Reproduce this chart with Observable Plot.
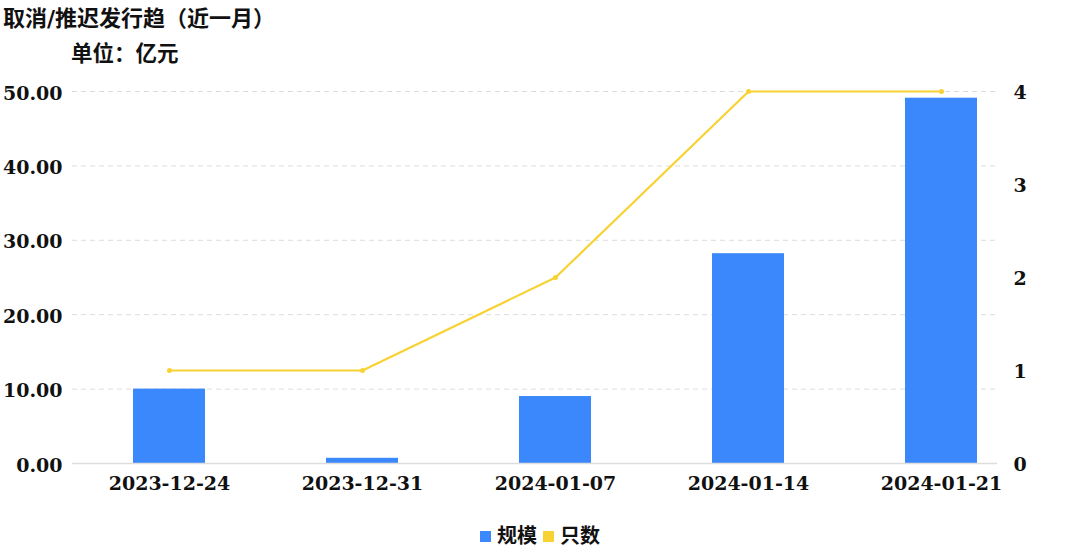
<!DOCTYPE html>
<html>
<head>
<meta charset="utf-8">
<script src="https://cdn.jsdelivr.net/npm/d3@7"></script>
<script src="https://cdn.jsdelivr.net/npm/@observablehq/plot@0.6"></script>
<style>
  html, body { margin: 0; padding: 0; background: #fff; }
  #wrap { position: relative; width: 1073px; height: 558px; overflow: hidden; }
  .t { position: absolute; font-family: "DejaVu Serif", "Noto Sans CJK SC", serif; font-weight: bold; color: #111; white-space: nowrap; line-height: 1; }
  #title { left: 3px; top: 7px; font-size: 22px; }
  #unit { left: 71px; top: 43px; font-size: 21.5px; }
  #legend { left: 480px; top: 526px; font-size: 20px; display: flex; align-items: center; }
  #legend .sw { display: inline-block; width: 11px; height: 11px; margin-right: 6px; }
  #legend .it { display: flex; align-items: center; margin-right: 6px; }
  #chart { position: absolute; left: 0; top: 0; }
</style>
</head>
<body>
<div id="wrap">
  <div id="chart"></div>
  <div class="t" id="title">取消/推迟发行趋（近一月）</div>
  <div class="t" id="unit">单位：亿元</div>
  <div class="t" id="legend"></div>
</div>
<script>
const dates = ["2023-12-24", "2023-12-31", "2024-01-07", "2024-01-14", "2024-01-21"];
const scale = [10.0, 0.7, 9.0, 28.2, 49.1];   // 规模 (亿元)
const counts = [1, 1, 2, 4, 4];              // 只数
const leftTicks = [0, 10, 20, 30, 40, 50];
const rightTicks = [0, 1, 2, 3, 4];
const seriesNames = ["规模", "只数"];
const colors = ["#3a88fb", "#f8d232"];

const leftMax = 50, rightMax = 4;
const ratio = leftMax / rightMax;

const barData = dates.map((d, i) => ({date: d, value: scale[i]}));
const lineData = dates.map((d, i) => ({date: d, count: counts[i], y: counts[i] * ratio}));

const font = "DejaVu Serif, serif";

const chart = Plot.plot({
  width: 1073,
  height: 558,
  marginTop: 91,
  marginBottom: 95,
  marginLeft: 72,
  marginRight: 76,
  style: {fontFamily: font, fontSize: "19px", fontWeight: "bold", color: "#111", background: "transparent"},
  x: {domain: dates, range: [72.5, 1037.5], paddingInner: 0.627, paddingOuter: 0.3135},
  y: {domain: [0, leftMax]},
  marks: [
    Plot.gridY(leftTicks, {stroke: "#dcdcdc", strokeOpacity: 1, strokeDasharray: "5,4", strokeWidth: 1}),
    Plot.barY(barData, {x: "date", y: "value", fill: colors[0]}),
    Plot.ruleY([0], {stroke: "#dddddd", strokeWidth: 1.5}),
    Plot.line(lineData, {x: "date", y: "y", stroke: colors[1], strokeWidth: 2.2}),
    Plot.dot(lineData, {x: "date", y: "y", r: 2.5, fill: colors[1], stroke: "none"}),
    Plot.axisY(leftTicks, {anchor: "left", tickSize: 0, tickPadding: 10, dy: 2, tickFormat: d => d.toFixed(2), label: null, fontSize: 19}),
    Plot.axisY(rightTicks.map(t => t * ratio), {anchor: "right", tickSize: 0, tickPadding: 16, dy: 1, tickFormat: d => String(Math.round(d / ratio)), label: null, fontSize: 19, textAnchor: "start"}),
    Plot.axisX({anchor: "bottom", tickSize: 0, tickPadding: 13, label: null, fontSize: 19})
  ]
});
document.getElementById("chart").appendChild(chart);

const legend = document.getElementById("legend");
seriesNames.forEach((n, i) => {
  const it = document.createElement("span");
  it.className = "it";
  const sw = document.createElement("span");
  sw.className = "sw";
  sw.style.background = colors[i];
  it.appendChild(sw);
  it.appendChild(document.createTextNode(n));
  legend.appendChild(it);
});
</script>
</body>
</html>
